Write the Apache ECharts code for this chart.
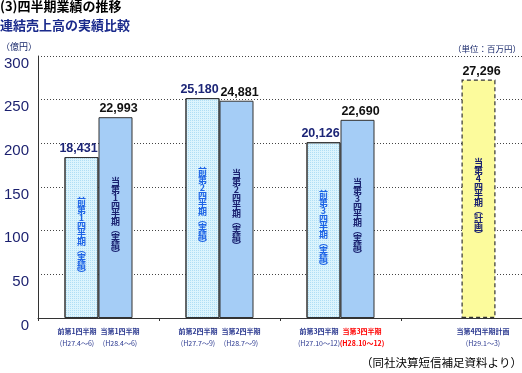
<!DOCTYPE html>
<html><head><meta charset="utf-8">
<script src="https://cdn.jsdelivr.net/npm/echarts@6/dist/echarts.min.js"></script>
<style>html,body{margin:0;padding:0;background:#fff}#c{width:522px;height:373px}</style>
</head><body><div id="c"></div>
<script>
// ---- data (億円) ----
const categories = ['Q1', 'Q2', 'Q3', 'Q4'];
const prevValues = [184.31, 251.80, 201.26, null];
const currValues = [229.93, 248.81, 226.90, 272.96];
const prevBarNames = ['前第1四半期(実績)', '前第2四半期(実績)', '前第3四半期(実績)', ''];
const currBarNames = ['当第1四半期(実績)', '当第2四半期(実績)', '当第3四半期(実績)', '当第4四半期(計画)'];
const prevPeriodNames = ['前第1四半期', '前第2四半期', '前第3四半期', ''];
const currPeriodNames = ['当第1四半期', '当第2四半期', '当第3四半期', '当第4四半期計画'];
const prevPeriodDates = ['(H27.4～6)', '(H27.7～9)', '(H27.10～12)', ''];
const currPeriodDates = ['(H28.4～6)', '(H28.7～9)', '(H28.10～12)', '(H29.1～3)'];
const highlightIndex = 2;   // current quarter shown in red
const planIndex = 3;        // plan bar (yellow, dashed)

const JP = '"Noto Sans CJK JP", "Liberation Sans", sans-serif';
const NUM = '"Liberation Sans", Arial, sans-serif';

function vertical(s) {
  return s.replace(/\(/g, '︵').replace(/\)/g, '︶').split('').join('\n');
}
function fmt(v) {
  return Math.round(v * 100).toLocaleString('en-US');
}

const chart = echarts.init(document.getElementById('c'), null, {renderer: 'canvas'});

const currData = currValues.map((v, i) => i === planIndex ? {
  value: v,
  itemStyle: {color: '#fcfb9c', borderColor: '#333', borderWidth: 1.2, borderType: [4, 3]}
} : v);

const cell = (extra) => Object.assign({width: 43, align: 'center', fontFamily: JP, fontSize: 7, lineHeight: 12}, extra);

const option = {
  animation: false,
  backgroundColor: '#fff',
  title: [
    {text: '(3)四半期業績の推移', left: 0, top: 0, padding: 0,
     textStyle: {fontFamily: JP, fontSize: 13, fontWeight: 'bold', color: '#000'}},
    {text: '連結売上高の実績比較', left: 0, top: 19, padding: 0,
     textStyle: {fontFamily: JP, fontSize: 13, fontWeight: 'bold', color: '#1a2a8c'}},
    {text: '（億円）', left: 1, top: 42, padding: 0,
     textStyle: {fontFamily: JP, fontSize: 9, fontWeight: 'normal', color: '#1a2a6c'}},
    {text: '（単位：百万円）', right: 1, top: 45, padding: 0,
     textStyle: {fontFamily: JP, fontSize: 8.5, fontWeight: 'normal', color: '#1a2a6c'}},
    {text: '（同社決算短信補足資料より）', right: 0, top: 357, padding: 0,
     textStyle: {fontFamily: JP, fontSize: 11.5, fontWeight: 'normal', color: '#000'}}
  ],
  grid: {left: 38, right: 0, top: 56, bottom: 55, containLabel: false},
  xAxis: {
    type: 'category',
    data: categories,
    axisLine: {show: true, lineStyle: {color: '#333', width: 1}},
    axisTick: {show: true, length: 3, lineStyle: {color: '#333'}},
    axisLabel: {
      interval: 0,
      margin: 7,
      formatter: (v, i) => {
        const hi = i === highlightIndex;
        return '{p|' + prevPeriodNames[i] + '}{' + (hi ? 'r' : 'c') + '|' + currPeriodNames[i] + '}\n' +
               '{pd|' + prevPeriodDates[i] + '}{' + (hi ? 'rd' : 'cd') + '|' + currPeriodDates[i] + '}';
      },
      rich: {
        p: cell({fontWeight: 'bold', color: '#2b3990'}),
        c: cell({fontWeight: 'bold', color: '#2b3990'}),
        r: cell({fontWeight: 'bold', color: '#ff0000'}),
        pd: cell({fontWeight: 'normal', color: '#2b3990'}),
        cd: cell({fontWeight: 'normal', color: '#2b3990'}),
        rd: cell({fontWeight: 'bold', color: '#ff0000'})
      }
    }
  },
  yAxis: {
    type: 'value',
    min: 0, max: 300, interval: 50,
    axisLine: {show: true, lineStyle: {color: '#333', width: 1}},
    axisTick: {show: false},
    splitLine: {show: true, lineStyle: {color: '#444', type: [1, 2], width: 1}},
    axisLabel: {margin: 9, verticalAlign: 'top', fontFamily: NUM, fontSize: 15, color: '#1a1f6e'}
  },
  series: [
    {
      name: 'prev', type: 'bar', stack: 'p', barWidth: 34, barGap: '0%',
      data: prevValues,
      itemStyle: {
        color: '#dcf4fd', borderColor: '#333', borderWidth: 1,
        decal: {symbol: 'rect', symbolSize: 1, color: 'rgba(120,195,235,0.45)', dashArrayX: [1, 1], dashArrayY: [1, 1]}
      },
      label: {
        show: true, position: 'inside',
        formatter: p => vertical(prevBarNames[p.dataIndex]),
        fontFamily: JP, fontSize: 9, fontWeight: 'bold', lineHeight: 8, color: '#1e64e6'
      }
    },
    {
      name: 'prevTop', type: 'bar', stack: 'p', barWidth: 34, barGap: '0%',
      data: prevValues.map(v => v == null ? null : 0),
      itemStyle: {color: 'rgba(0,0,0,0)', borderWidth: 0},
      label: {
        show: true, position: 'top', distance: 2, offset: [-3, 0],
        formatter: p => fmt(prevValues[p.dataIndex]),
        fontFamily: NUM, fontSize: 12.5, fontWeight: 'bold', color: '#1c2577'
      }
    },
    {
      name: 'curr', type: 'bar', stack: 'c', barWidth: 34, barGap: '0%',
      data: currData,
      itemStyle: {color: '#a5cdf6', borderColor: '#333', borderWidth: 1},
      label: {
        show: true, position: 'inside',
        formatter: p => vertical(currBarNames[p.dataIndex]),
        fontFamily: JP, fontSize: 9, fontWeight: 'bold', lineHeight: 8, color: '#1a2270'
      }
    },
    {
      name: 'currTop', type: 'bar', stack: 'c', barWidth: 34, barGap: '0%',
      data: currValues.map(v => v == null ? null : 0),
      itemStyle: {color: 'rgba(0,0,0,0)', borderWidth: 0},
      label: {
        show: true, position: 'top', distance: 2, offset: [3, 0],
        formatter: p => fmt(currValues[p.dataIndex]),
        fontFamily: NUM, fontSize: 12.5, fontWeight: 'bold', color: '#111'
      }
    }
  ]
};
chart.setOption(option);
</script>
</body></html>
